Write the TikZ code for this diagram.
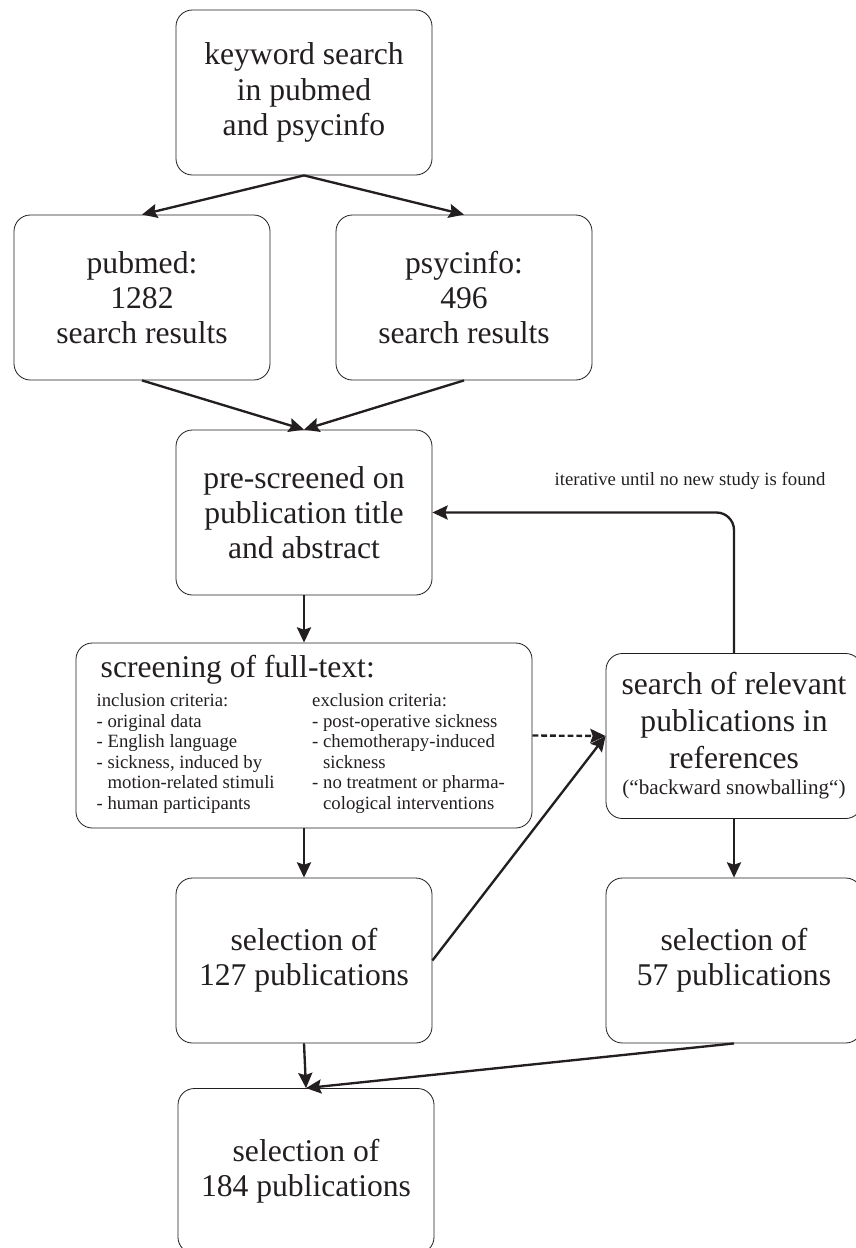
\documentclass[tikz,border=0pt]{standalone}
\usepackage{fontspec}
\setmainfont{Liberation Serif}
\usetikzlibrary{arrows.meta}
\definecolor{ink}{HTML}{231F20}

\tikzset{
    stepbox/.style={draw=ink, line width=0.7pt, rounded corners=14pt, minimum width=7.68cm, minimum height=4.95cm, inner sep=2pt, align=center, text=ink, font=\fontsize{27}{30}\selectfont},
    flow/.style={draw=ink, line width=2pt, -{Stealth[length=13pt,width=12pt,inset=2pt]}},
    smalltext/.style={text=ink, inner sep=0pt, font=\fontsize{16}{18}\selectfont}
}

\begin{document}
\begin{tikzpicture}[x=0.03cm, y=-0.03cm]
    \useasboundingbox (0,0) rectangle (855,1248);

    \node[stepbox] (keyword) at (304,92.5) {keyword search\\in pubmed\\and psycinfo};

    \node[stepbox] (pubmed) at (142,297.5) {pubmed:\\1282\\search results};
    \node[stepbox] (psycinfo) at (464,297.5) {psycinfo:\\496\\search results};

    \node[stepbox] (prescreen) at (304,512.5) {pre-screened on\\publication title\\and abstract};

    \node[stepbox, minimum width=13.68cm, minimum height=5.55cm] (fulltext) at (304,735.5) {%
        {\fontsize{16}{17.5}\selectfont
        \begin{tabular}{@{}p{184pt}@{}p{170pt}@{}}
            \multicolumn{2}{@{}l@{}}{\hspace{3.5pt}\fontsize{27}{30}\selectfont screening of full-text:}\\[7.3pt]
            inclusion criteria: & exclusion criteria:\\
            - original data & - post-operative sickness\\
            - English language & - chemotherapy-induced\\
            - sickness, induced by & \phantom{- }sickness\\
            \phantom{- }motion-related stimuli & - no treatment or pharma-\\
            - human participants & \phantom{- }cological interventions\\
        \end{tabular}}};

    \node[stepbox, font=\fontsize{27}{31.5}\selectfont] (snowball) at (734,736) {search of relevant\\publications in\\references\\[-9pt]{\fontsize{18}{20}\selectfont (“backward snowballing“)}};

    \node[stepbox] (sel127) at (304,960.5) {selection of\\127 publications};
    \node[stepbox] (sel57) at (734,960.5) {selection of\\57 publications};
    \node[stepbox] (sel184) at (306,1171) {selection of\\184 publications};

    \node[smalltext] (iterlabel) at (690,480.6) {iterative until no new study is found};

    \draw[flow] (keyword.south) -- (pubmed.north);
    \draw[flow] (keyword.south) -- (psycinfo.north);
    \draw[flow] (pubmed.south) -- (prescreen.north);
    \draw[flow] (psycinfo.south) -- (prescreen.north);
    \draw[flow] (prescreen.south) -- (fulltext.north);
    \draw[flow, dash pattern=on 5pt off 2.5pt] (fulltext.east) -- (snowball.west);
    \draw[flow] (sel127.east) -- (snowball.west);
    \draw[flow, rounded corners=15pt] (snowball.north) |- (prescreen.east);
    \draw[flow] (fulltext.south) -- (sel127.north);
    \draw[flow] (snowball.south) -- (sel57.north);
    \draw[flow] (sel127.south) -- (sel184.north);
    \draw[flow] (sel57.south) -- (sel184.north);

\end{tikzpicture}
\end{document}
